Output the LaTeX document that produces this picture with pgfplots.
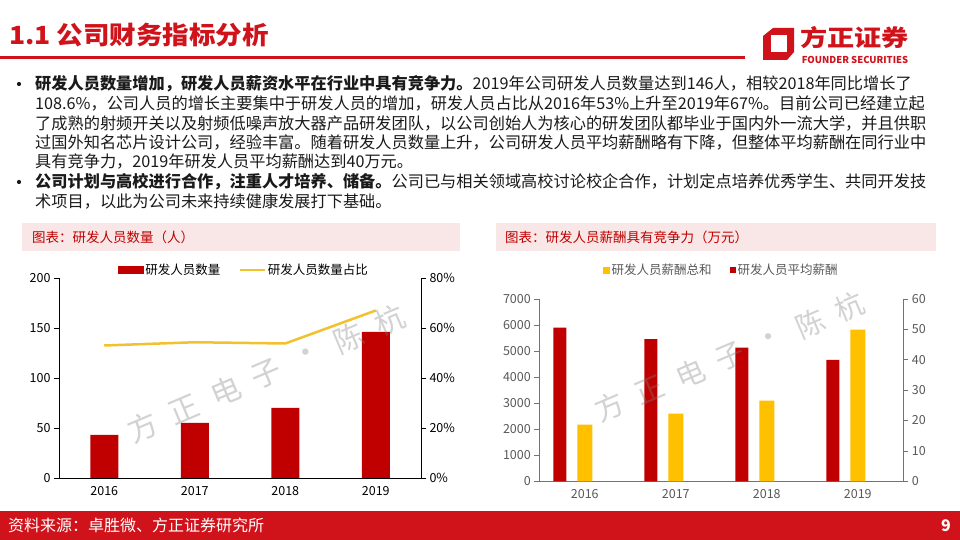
\documentclass[border=0pt]{standalone}
\usepackage{pgfplots}
\pgfplotsset{compat=1.18}
\usepackage{fontspec}
\setmainfont{Noto Sans CJK SC}
\definecolor{fzred}{HTML}{C00000}
\definecolor{brand}{HTML}{D0121B}
\definecolor{gold}{HTML}{FFC000}
\definecolor{linegold}{HTML}{F2C12E}
\definecolor{pinkbg}{HTML}{F9E7E7}
\definecolor{tickgray}{HTML}{595959}
\definecolor{bodytext}{HTML}{1A1A1A}
\newcommand{\body}{\fontsize{16.2}{19}\selectfont}
\begin{document}
\begin{tikzpicture}[x=1pt,y=1pt]
\fill[white] (0,0) rectangle (960,540);
\useasboundingbox (0,0) rectangle (960,540);
% ---- title and rule
\node[anchor=west, inner sep=0, text=brand, font=\fontsize{25}{30}\selectfont\bfseries] at (9,505) {\scalebox{1.06}[1]{1.1 公司财务指标分析}};
\draw[brand, line width=2.5pt] (0,482.5) -- (745,482.5);
% ---- logo
\fill[brand] (773,512) -- (794,512) -- (794,488) -- (787,480) -- (763,480) -- (763,504) -- cycle;
\fill[white] (771,505) -- (787,505) -- (787,488) -- (771,488) -- cycle;
\node[inner sep=0, text=brand, font=\fontsize{23}{26}\selectfont\bfseries] at (854.5,502) {\scalebox{1.18}[1]{方正证券}};
\node[inner sep=0, text=brand, font=\fontsize{9.5}{11}\selectfont\bfseries] at (855,480) {FOUNDER SECURITIES};
% ---- body text
\fill[bodytext] (19,456) circle (2.1);
\fill[bodytext] (19,358) circle (2.1);
\begin{scope}[every node/.style={anchor=west, inner sep=0, text=bodytext, font=\body}]
\node at (35,456) {\textbf{研发人员数量增加，研发人员薪资水平在行业中具有竞争力。}2019年公司研发人员数量达到146人，相较2018年同比增长了};
\node at (35,436.5) {108.6\%，公司人员的增长主要集中于研发人员的增加，研发人员占比从2016年53\%上升至2019年67\%。目前公司已经建立起};
\node at (35,417) {了成熟的射频开关以及射频低噪声放大器产品研发团队，以公司创始人为核心的研发团队都毕业于国内外一流大学，并且供职};
\node at (35,397.5) {过国外知名芯片设计公司，经验丰富。随着研发人员数量上升，公司研发人员平均薪酬略有下降，但整体平均薪酬在同行业中};
\node at (35,378) {具有竞争力，2019年研发人员平均薪酬达到40万元。};
\node at (35,358) {\textbf{公司计划与高校进行合作，注重人才培养、储备。}公司已与相关领域高校讨论校企合作，计划定点培养优秀学生、共同开发技};
\node at (35,339) {术项目，以此为公司未来持续健康发展打下基础。};
\end{scope}
% ---- chart headers
\fill[pinkbg] (22,317) rectangle (460,289);
\node[anchor=west, inner sep=0, text=fzred, font=\fontsize{13.5}{16}\selectfont] at (32,303) {图表：研发人员数量（人）};
\fill[pinkbg] (496,317) rectangle (936,289);
\node[anchor=west, inner sep=0, text=fzred, font=\fontsize{13.5}{16}\selectfont] at (505,303) {图表：研发人员薪酬具有竞争力（万元）};
% ---- footer
\fill[brand] (0,0) rectangle (960,29);
\node[anchor=west, inner sep=0, text=white, font=\fontsize{16}{18}\selectfont] at (8,14.5) {资料来源：卓胜微、方正证券研究所};
\node[inner sep=0, text=white, font=\fontsize{16}{18}\selectfont\bfseries] at (946,14.5) {9};

% ================= left chart =================
\pgfplotsset{
  leftchart/.style={at={(59pt,62pt)}, anchor=south west, scale only axis,
    width=362pt, height=200pt, xmin=-0.5, xmax=3.5,
    tick align=outside, major tick length=5pt,
    axis line style={black, line width=0.8pt},
    tick style={black, line width=0.8pt},
    ticklabel style={font=\fontsize{12.5}{14}\selectfont, text=black},
    /pgf/number format/assume math mode=true, clip=false},
  barlegend/.style={legend image code/.code={\fill[fzred] (0pt,-3.5pt) rectangle (25pt,3.5pt);}},
  linelegend/.style={legend image code/.code={\draw[linegold, line width=2.5pt] (0pt,0pt) -- (25pt,0pt);}},
  goldsq/.style={legend image code/.code={\fill[gold] (0pt,-3pt) rectangle (6pt,3pt);}},
  redsq/.style={legend image code/.code={\fill[fzred] (0pt,-3pt) rectangle (6pt,3pt);}},
}
\begin{axis}[leftchart, ymin=0, ymax=200, axis y line*=left, axis x line*=bottom,
  xtick={0,1,2,3}, xticklabels={2016,2017,2018,2019}, x tick style={draw=none},
  ytick={0,50,100,150,200}]
\addplot[ybar, bar width=28pt, fill=fzred, draw=none] coordinates {(0,43) (1,55) (2,70) (3,146)};
\end{axis}
\begin{axis}[leftchart, ymin=0, ymax=80, axis y line*=right, axis x line=none,
  ytick={0,20,40,60,80}, yticklabel={\pgfmathprintnumber{\tick}\%},
  legend columns=2,
  legend style={at={(0.5,1)}, anchor=south, xshift=4pt, yshift=-2pt, draw=none, fill=none,
    font=\fontsize{12.5}{14}\selectfont, text=black,
    /tikz/every even column/.append style={column sep=16pt}}]
\addlegendimage{barlegend}
\addlegendentry{研发人员数量}
\addplot[linegold, line width=2.5pt, linelegend]
  coordinates {(0,53) (1,54.3) (2,53.8) (3,67)};
\addlegendentry{研发人员数量占比}
\end{axis}

% ================= right chart =================
\pgfplotsset{
  rightchart/.style={at={(539.3pt,58.7pt)}, anchor=south west, scale only axis,
    width=364pt, height=182.3pt, xmin=-0.5, xmax=3.5,
    tick align=outside, major tick length=5pt,
    axis line style={black!55, line width=0.8pt},
    tick style={black!55, line width=0.8pt},
    ticklabel style={font=\fontsize{12.5}{14}\selectfont, text=tickgray},
    /pgf/number format/assume math mode=true, /pgf/number format/1000 sep={},
    scaled y ticks=false, clip=false},
}
\begin{axis}[rightchart, ymin=0, ymax=7000, axis y line*=left, axis x line*=bottom,
  xtick={0,1,2,3}, xticklabels={2016,2017,2018,2019}, x tick style={draw=none},
  ytick={0,1000,2000,3000,4000,5000,6000,7000}]
\addplot[ybar, bar width=15pt, fill=gold, draw=none] coordinates {(0,2180) (1,2600) (2,3100) (3,5820)};
\end{axis}
\begin{axis}[rightchart, ymin=0, ymax=60, axis y line*=right, axis x line=none,
  ytick={0,10,20,30,40,50,60},
  legend columns=2,
  legend style={at={(0.5,1)}, anchor=south, yshift=19pt, draw=none, fill=none,
    font=\fontsize{12.5}{14}\selectfont, text=tickgray,
    /tikz/every even column/.append style={column sep=16pt}}]
\addlegendimage{goldsq}
\addlegendentry{研发人员薪酬总和}
\addplot[ybar, bar width=13pt, bar shift=-25pt, fill=fzred, draw=none, redsq]
  coordinates {(0,50.6) (1,46.8) (2,44.0) (3,40.0)};
\addlegendentry{研发人员平均薪酬}
\end{axis}

% ---- watermarks (one glyph per node)
\foreach \c [count=\i from 0] in {方,正,电,子,·,陈,杭} {
  \node[rotate=23, inner sep=0, text=gray, opacity=0.35, font=\fontsize{30}{32}\selectfont]
    at ({143+41.2*\i},{113+17.8*\i}) {\c};
  \node[rotate=23, inner sep=0, text=gray, opacity=0.35, font=\fontsize{29}{31}\selectfont]
    at ({610+40*\i},{133+16.7*\i}) {\c};
}
\end{tikzpicture}
\end{document}
